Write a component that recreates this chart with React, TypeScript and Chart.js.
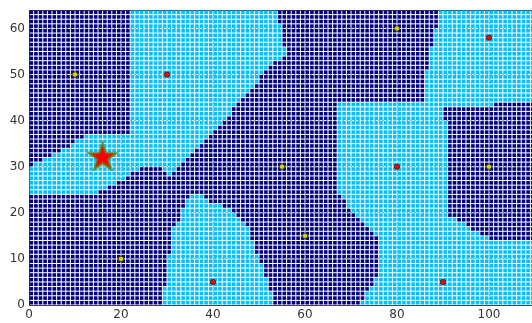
import React, { useEffect, useRef } from "react";
import { Chart, registerables } from "chart.js";

Chart.register(...registerables);

// ---- axis ----
const X_TICKS = [0, 20, 40, 60, 80, 100];
const Y_TICKS = [0, 10, 20, 30, 40, 50, 60];
const X_MAX = 110;
const Y_MAX = 64;
const GRID_COLUMNS = 110;
const GRID_ROWS = 64;

// ---- labelled points ----
const YELLOW_X = [10, 20, 55, 60, 80, 100];
const YELLOW_Y = [50, 10, 30, 15, 60, 30];
const RED_X = [30, 40, 80, 90, 100];
const RED_Y = [50, 5, 30, 5, 58];
const STAR_X = [16];
const STAR_Y = [32];

// ---- decision regions (polygon vertices, data units) ----
type Pt = [number, number];
const CYAN_UPPER_LEFT: Pt[] = [
  [22, 65], [54, 65], [55, 57], [56, 54.7], [52.3, 51.7], [48.6, 47.3], [45.1, 43.8],
  [43, 40.1], [30.5, 28.2], [29.9, 29.3], [27.7, 30.3], [25.5, 30.3], [14.6, 24],
  [-1, 24], [-1, 30], [0.5, 30], [13.2, 37], [22, 37],
];
const CYAN_LOWER_MIDDLE: Pt[] = [
  [29, -1], [29, 1], [31.2, 16.2], [32.7, 18.4], [35, 24.5], [37, 24.5], [39, 22.7],
  [43.5, 20.6], [47.9, 16.2], [50.1, 9.7], [51.6, 5.3], [54, -1],
];
const CYAN_RIGHT: Pt[] = [
  [67, 44], [86.3, 44], [86.3, 49.5], [87.6, 56.9], [89, 61.9], [89, 65], [115, 65],
  [115, -1], [72.4, -1], [72.4, 1], [74, 3.2], [76.1, 6.9], [76.1, 13.4], [74.6, 16.2],
  [72.4, 18.4], [71, 19], [69.6, 21.2], [67, 24.3],
];
const NAVY_RIGHT: Pt[] = [
  [89.8, 43], [100.7, 43], [100.7, 44.3], [115, 44.3], [115, 13.4], [100.7, 14],
  [98.5, 15.5], [95.7, 16.9], [93.5, 18.4], [91, 19], [91, 40.1], [89.8, 40.1],
];

const NAVY = "#000080";
const CYAN = "#00c0ff";

function inside(poly: Pt[], x: number, y: number): boolean {
  let c = false;
  for (let i = 0, j = poly.length - 1; i < poly.length; j = i++) {
    const [xi, yi] = poly[i];
    const [xj, yj] = poly[j];
    if (yi > y !== yj > y && x < ((xj - xi) * (y - yi)) / (yj - yi) + xi) c = !c;
  }
  return c;
}

function buildCells() {
  const navy: { x: number; y: number }[] = [];
  const cyan: { x: number; y: number }[] = [];
  for (let i = 0; i < GRID_COLUMNS; i++) {
    for (let j = 0; j < GRID_ROWS; j++) {
      const x = i + 0.5;
      const y = j + 0.5;
      const isCyan =
        inside(CYAN_UPPER_LEFT, x, y) ||
        inside(CYAN_LOWER_MIDDLE, x, y) ||
        (inside(CYAN_RIGHT, x, y) && !inside(NAVY_RIGHT, x, y));
      (isCyan ? cyan : navy).push({ x, y });
    }
  }
  return { navy, cyan };
}

function makeStar(R: number): HTMLCanvasElement {
  const size = Math.ceil(R * 2 + 6);
  const c = document.createElement("canvas");
  c.width = size;
  c.height = size;
  const ctx = c.getContext("2d")!;
  const cx = size / 2;
  const cy = size / 2;
  const r = R * 0.382;
  ctx.beginPath();
  for (let k = 0; k < 10; k++) {
    const rad = k % 2 === 0 ? R : r;
    const a = -Math.PI / 2 + (k * Math.PI) / 5;
    ctx.lineTo(cx + rad * Math.cos(a), cy + rad * Math.sin(a));
  }
  ctx.closePath();
  ctx.fillStyle = "#ff0000";
  ctx.fill();
  ctx.lineJoin = "miter";
  ctx.strokeStyle = "#5e8c1c";
  ctx.lineWidth = 1.8;
  ctx.stroke();
  return c;
}

const toPts = (xs: number[], ys: number[]) => xs.map((x, k) => ({ x, y: ys[k] }));

const noPad = (s: any) => {
  s.paddingLeft = 0;
  s.paddingRight = 0;
  s.paddingTop = 0;
  s.paddingBottom = 0;
};

export default function App() {
  const ref = useRef<HTMLCanvasElement | null>(null);

  useEffect(() => {
    if (!ref.current) return;
    const { navy, cyan } = buildCells();
    const tickFont = { family: "DejaVu Sans", size: 12 };
    const gridColor = "rgba(40,40,40,0.35)";
    const chart = new Chart(ref.current, {
      type: "scatter",
      data: {
        datasets: [
          {
            label: "star",
            data: toPts(STAR_X, STAR_Y),
            pointStyle: makeStar(15) as any,
            pointRadius: 16,
            order: 0,
          },
          {
            label: "red",
            data: toPts(RED_X, RED_Y),
            backgroundColor: "#ff0000",
            borderColor: "#222222",
            borderWidth: 0.8,
            pointRadius: 2.7,
            order: 1,
          },
          {
            label: "yellow",
            data: toPts(YELLOW_X, YELLOW_Y),
            backgroundColor: "#d6d600",
            borderColor: "#222222",
            borderWidth: 0.8,
            pointRadius: 2.7,
            order: 1,
          },
          {
            label: "cyan",
            data: cyan,
            pointStyle: "rect",
            pointRadius: 2.55,
            backgroundColor: CYAN,
            borderWidth: 0,
            order: 5,
          },
          {
            label: "navy",
            data: navy,
            pointStyle: "rect",
            pointRadius: 2.55,
            backgroundColor: NAVY,
            borderWidth: 0,
            order: 5,
          },
        ],
      },
      options: {
        animation: false,
        responsive: false,
        events: [],
        layout: { autoPadding: false, padding: { top: 10, left: 0, right: 1, bottom: 0 } },
        plugins: { legend: { display: false }, tooltip: { enabled: false } },
        scales: {
          x: {
            type: "linear",
            position: "bottom",
            min: 0,
            max: X_MAX,
            z: 1,
            afterBuildTicks: (s: any) => {
              s.ticks = X_TICKS.map((v) => ({ value: v }));
            },
            afterFit: (s: any) => {
              s.height = 18;
              noPad(s);
            },
            grid: { color: gridColor, lineWidth: 1, drawTicks: false },
            border: { display: true, color: "#444444", width: 1, dash: [2, 2] },
            ticks: { font: tickFont, color: "#333333", padding: 3, maxRotation: 0, autoSkip: false },
          },
          x2: {
            type: "linear",
            position: "top",
            min: 0,
            max: 1,
            grid: { display: false },
            ticks: { display: false },
            border: { display: true, color: "#444444", width: 1 },
            afterFit: (s: any) => {
              s.height = 0;
              noPad(s);
            },
          },
          y: {
            type: "linear",
            position: "left",
            min: 0,
            max: Y_MAX,
            z: 1,
            afterBuildTicks: (s: any) => {
              s.ticks = Y_TICKS.map((v) => ({ value: v }));
            },
            afterFit: (s: any) => {
              s.width = 29;
              noPad(s);
            },
            grid: { color: gridColor, lineWidth: 1, drawTicks: false },
            border: { display: true, color: "#444444", width: 1, dash: [2, 2] },
            ticks: { font: tickFont, color: "#333333", padding: 4, autoSkip: false },
          },
        },
      },
    } as any);
    return () => chart.destroy();
  }, []);

  return (
    <div
      style={{
        position: "absolute",
        left: 0,
        top: 0,
        width: 532,
        height: 323,
        overflow: "hidden",
        background: "#ffffff",
      }}
    >
      <canvas ref={ref} width={536} height={323} style={{ display: "block", width: 536, height: 323 }} />
    </div>
  );
}
